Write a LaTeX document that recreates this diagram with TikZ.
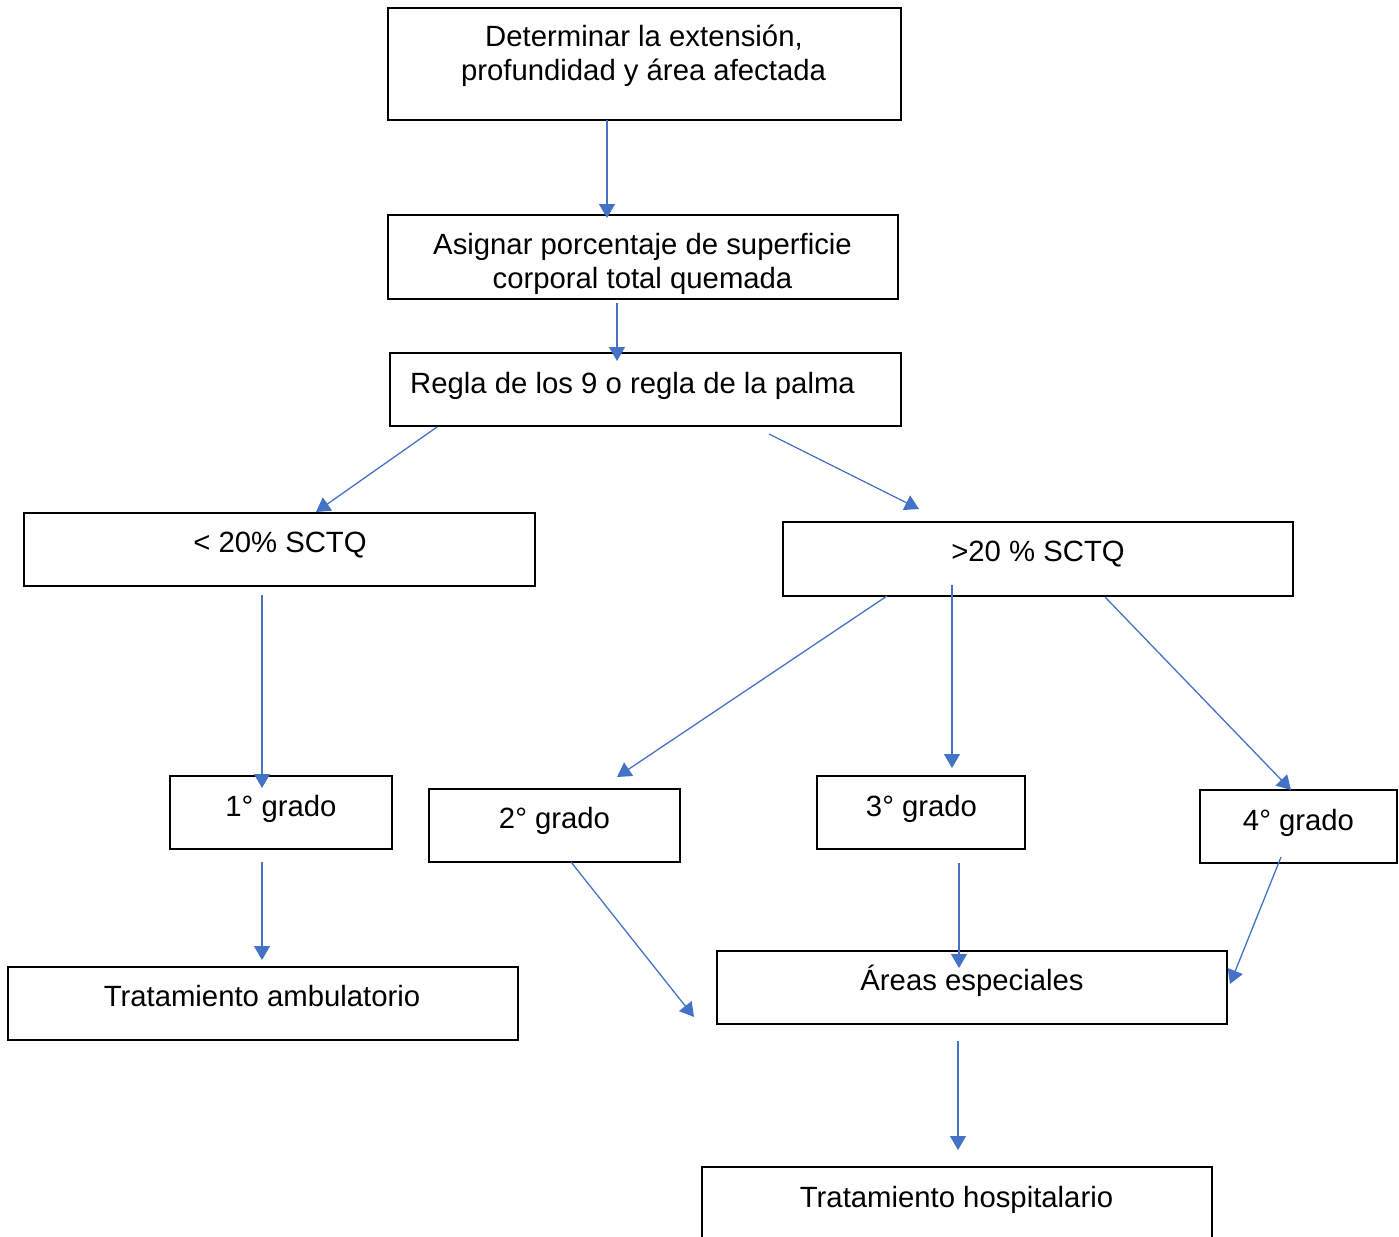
\documentclass[tikz,border=0pt]{standalone}
\usepackage{fontspec}
\setmainfont{Liberation Sans}
\usetikzlibrary{arrows.meta}
\definecolor{arrowblue}{HTML}{4472C4}
\begin{document}
\begin{tikzpicture}[x=1pt,y=-1pt,
  box/.style={draw=black, line width=1.5pt, inner sep=0pt, outer sep=0pt},
  lbl/.style={font=\fontsize{29.3}{34.5}\selectfont, inner sep=0pt, anchor=base},
  conn/.style={draw=arrowblue, line width=1.3pt, -{Triangle[width=16pt,length=14pt]}}]
\clip (0,0) rectangle (1399,1236);
% boxes
\node[box, minimum width=513pt, minimum height=112pt] (b1) at (644.5,64) {};
\node[box, minimum width=510pt, minimum height=84pt] (b2) at (643,257) {};
\node[box, minimum width=511pt, minimum height=73pt] (b3) at (645.5,389.5) {};
\node[box, minimum width=511pt, minimum height=73pt] (b4) at (279.5,549.5) {};
\node[box, minimum width=510pt, minimum height=74pt] (b5) at (1038,559) {};
\node[box, minimum width=222pt, minimum height=73pt] (b6) at (281,812.5) {};
\node[box, minimum width=251pt, minimum height=73pt] (b7) at (554.5,825.5) {};
\node[box, minimum width=208pt, minimum height=73pt] (b8) at (921,812.5) {};
\node[box, minimum width=197pt, minimum height=73pt] (b9) at (1298.5,826.5) {};
\node[box, minimum width=510pt, minimum height=73pt] (b10) at (263,1003.5) {};
\node[box, minimum width=510pt, minimum height=73pt] (b11) at (972,987.5) {};
\node[box, minimum width=510pt, minimum height=93pt] (b12) at (957,1213.5) {};
% labels
\node[lbl] (t1a) at (644,47) {Determinar la extensión,};
\node[lbl] (t1b) at (643.5,81) {profundidad y área afectada};
\node[lbl] (t2a) at (642.5,254) {Asignar porcentaje de superficie};
\node[lbl] (t2b) at (642.5,288) {corporal total quemada};
\node[lbl] (t3) at (632.5,393) {Regla de los 9 o regla de la palma};
\node[lbl] (t4) at (280,552) {< 20\% SCTQ};
\node[lbl] (t5) at (1038,561) {>20 \% SCTQ};
\node[lbl] (t6) at (281,816) {1° grado};
\node[lbl] (t7) at (554.5,828) {2° grado};
\node[lbl] (t8) at (921.5,816) {3° grado};
\node[lbl] (t9) at (1298.5,830) {4° grado};
\node[lbl] (t10) at (262,1006) {Tratamiento ambulatorio};
\node[lbl] (t11) at (972,990) {Áreas especiales};
\node[lbl] (t12) at (956.5,1207) {Tratamiento hospitalario};
% connector end points
\coordinate (a1s) at (607,120);  \coordinate (a1e) at (607,218);
\coordinate (a2s) at (617,303);  \coordinate (a2e) at (617,361);
\coordinate (a3s) at (437,427);  \coordinate (a3e) at (316,512);
\coordinate (a4s) at (769,434);  \coordinate (a4e) at (919,509);
\coordinate (a5s) at (262,595);  \coordinate (a5e) at (262,788);
\coordinate (a6s) at (887,596);  \coordinate (a6e) at (617,777);
\coordinate (a7s) at (952,585);  \coordinate (a7e) at (952,768);
\coordinate (a8s) at (1105,597); \coordinate (a8e) at (1291,790);
\coordinate (a9s) at (262,862);  \coordinate (a9e) at (262,960);
\coordinate (a10s) at (571,862); \coordinate (a10e) at (694,1017);
\coordinate (a11s) at (959,863); \coordinate (a11e) at (959,968);
\coordinate (a12s) at (1281,857); \coordinate (a12e) at (1230,984);
\coordinate (a13s) at (958,1041); \coordinate (a13e) at (958,1150);
% connectors
\draw[conn] (a1s) -- (a1e);
\draw[conn] (a2s) -- (a2e);
\draw[conn] (a3s) -- (a3e);
\draw[conn] (a4s) -- (a4e);
\draw[conn] (a5s) -- (a5e);
\draw[conn] (a6s) -- (a6e);
\draw[conn] (a7s) -- (a7e);
\draw[conn] (a8s) -- (a8e);
\draw[conn] (a9s) -- (a9e);
\draw[conn] (a10s) -- (a10e);
\draw[conn] (a11s) -- (a11e);
\draw[conn] (a12s) -- (a12e);
\draw[conn] (a13s) -- (a13e);
\end{tikzpicture}
\end{document}
